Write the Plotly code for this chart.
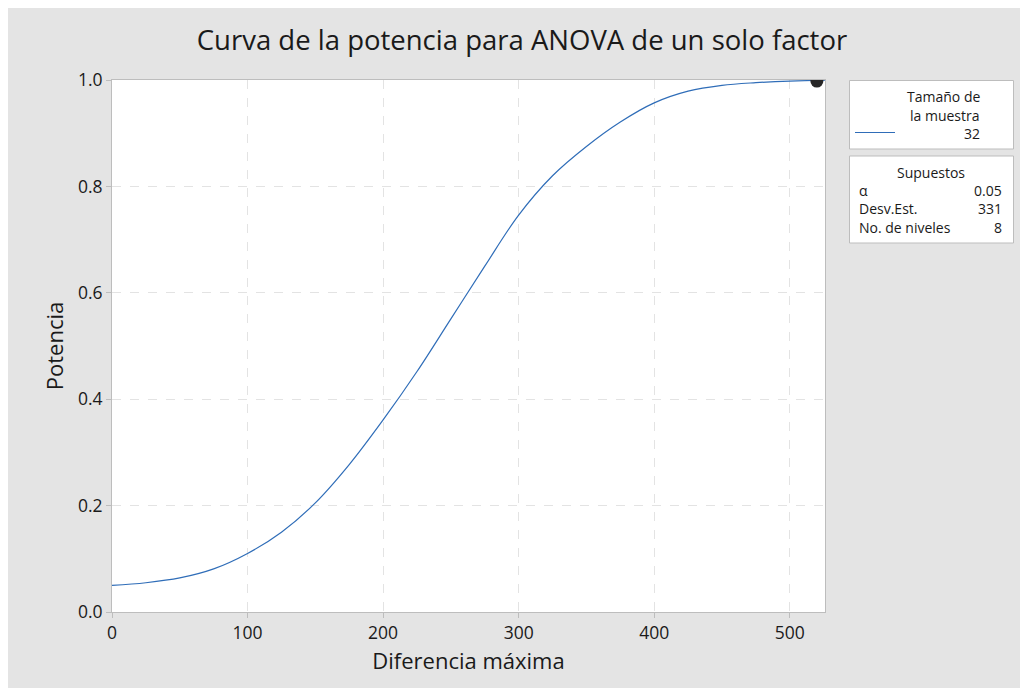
import plotly.graph_objects as go

# Data
diferencia = [0, 25, 50, 75, 100, 125, 150, 175, 200, 225, 250, 275, 300, 325,
              350, 375, 400, 425, 450, 475, 500, 526]
potencia = [0.050, 0.055, 0.064, 0.081, 0.110, 0.150, 0.205, 0.277, 0.361, 0.452,
            0.551, 0.650, 0.746, 0.820, 0.875, 0.921, 0.957, 0.979, 0.990, 0.995,
            0.998, 0.9995]
punto_x = [520]
punto_y = [0.998]
x_ticks = [0, 100, 200, 300, 400, 500]
y_ticks = [0.0, 0.2, 0.4, 0.6, 0.8, 1.0]
tam_muestra = "32"
supuestos = [("α", "0.05"), ("Desv.Est.", "331"), ("No. de niveles", "8")]

FONT = "Open Sans"
OFF = 8  # page body margin
W, H = 1020, 680
L, R, T, B = 112 - OFF, 825 - OFF, 80 - OFF, 612 - OFF
pw, ph = R - L, B - T
TXT = "#1a1a1a"

def px(xs):  # screen x -> paper
    return (xs - OFF - L) / pw

def py(ys):  # screen y -> paper
    return (B - (ys - OFF)) / ph

fig = go.Figure()
fig.add_trace(go.Scatter(x=diferencia, y=potencia, mode="lines", line_shape="spline",
                         line=dict(color="#2f6db8", width=1.2), hoverinfo="skip"))
fig.add_trace(go.Scatter(x=punto_x, y=punto_y, mode="markers",
                         marker=dict(color="#262626", size=13), cliponaxis=True))

shapes = [
    dict(type="rect", xref="paper", yref="paper", x0=px(849.5), x1=px(1013.5), y0=py(149), y1=py(80.5),
         fillcolor="white", line=dict(color="#bdbdbd", width=1)),
    dict(type="rect", xref="paper", yref="paper", x0=px(849.5), x1=px(1013.5), y0=py(243), y1=py(156),
         fillcolor="white", line=dict(color="#bdbdbd", width=1)),
    dict(type="line", xref="paper", yref="paper", x0=px(855), x1=px(895), y0=py(132.5), y1=py(132.5),
         line=dict(color="#2f6db8", width=1.2)),
]

ann = []
def txt(s, xs, ys, anchor):
    ann.append(dict(text=s, x=px(xs), y=py(ys), xref="paper", yref="paper", showarrow=False,
                    xanchor=anchor, yanchor="middle", font=dict(family=FONT, size=14, color=TXT)))

txt("Tamaño de", 982, 97, "right")
txt("la muestra", 982, 115, "right")
txt(tam_muestra, 982, 133, "right")
txt("Supuestos", 931, 172, "center")
for i, (k, v) in enumerate(supuestos):
    yy = 190 + i * 18.7
    txt(k, 857, yy, "left")
    txt(v, 1004, yy, "right")

axis_common = dict(showline=True, linecolor="#bdbdbd", linewidth=1, mirror=True,
                   ticks="outside", ticklen=5, tickcolor="#bdbdbd",
                   showgrid=True, gridcolor="#e3e3e3", griddash="dash", gridwidth=1,
                   zeroline=False, tickfont=dict(family=FONT, size=17.5, color=TXT))

fig.update_layout(
    width=W, height=H,
    margin=dict(l=L, r=W - R, t=T, b=H - B, pad=0),
    paper_bgcolor="#e4e4e4", plot_bgcolor="white",
    showlegend=False,
    title=dict(text="Curva de la potencia para ANOVA de un solo factor",
               x=(522 - OFF) / W, xref="container",
               y=1 - (40 - OFF) / H, yanchor="middle", xanchor="center",
               font=dict(family=FONT, size=27.5, color=TXT)),
    xaxis=dict(range=[0, 526], tickvals=x_ticks, ticktext=[str(v) for v in x_ticks],
               title=dict(text="Diferencia máxima", font=dict(family=FONT, size=22, color=TXT), standoff=10),
               **axis_common),
    yaxis=dict(range=[0, 1], tickvals=y_ticks, ticktext=[f"{v:.1f}" for v in y_ticks],
               title=dict(text="Potencia", font=dict(family=FONT, size=22, color=TXT), standoff=8),
               **axis_common),
    shapes=shapes,
    annotations=ann,
)

fig.write_html("out.html")
